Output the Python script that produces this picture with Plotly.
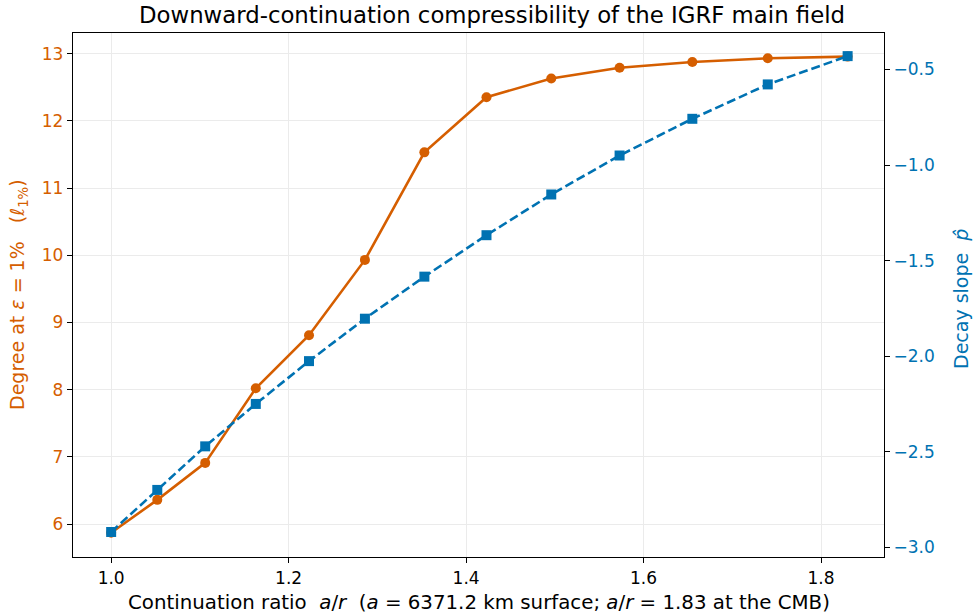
import plotly.graph_objects as go

# continuation ratio a/r
ratio = [1.0, 1.052, 1.106, 1.163, 1.223, 1.286, 1.353, 1.423, 1.496, 1.573, 1.655, 1.740, 1.830]
# degree at eps = 1%
degree = [5.87, 6.36, 6.91, 8.02, 8.81, 9.93, 11.53, 12.35, 12.63, 12.79, 12.875, 12.93, 12.955]
# decay slope p-hat
slope = [-2.92, -2.70, -2.472, -2.25, -2.026, -1.804, -1.584, -1.367, -1.154, -0.95, -0.758, -0.578, -0.43]

x_ticks = [1.0, 1.2, 1.4, 1.6, 1.8]
y_ticks = [6, 7, 8, 9, 10, 11, 12, 13]
y2_ticks = [-3.0, -2.5, -2.0, -1.5, -1.0, -0.5]
y2_labels = ["\u22123.0", "\u22122.5", "\u22122.0", "\u22121.5", "\u22121.0", "\u22120.5"]

ORANGE = "#D55E00"
BLUE = "#0072B2"
FONT = "DejaVu Sans"

W, H = 973, 616
L, R, T, B = 73, 89, 33, 59
PW, PH = W - L - R, H - T - B

fig = go.Figure()
fig.add_trace(go.Scatter(
    x=ratio, y=degree, mode="lines+markers",
    line=dict(color=ORANGE, width=2.6),
    marker=dict(symbol="circle", size=10, color=ORANGE),
    showlegend=False, yaxis="y",
))
fig.add_trace(go.Scatter(
    x=ratio, y=slope, mode="lines+markers",
    line=dict(color=BLUE, width=2.6, dash="9px,4px"),
    marker=dict(symbol="square", size=10, color=BLUE),
    showlegend=False, yaxis="y2",
))

NB = "\u00a0"
annotations = [
    dict(text="Downward-continuation compressibility of the IGRF main field",
         xref="paper", yref="paper", x=(492 - L) / PW, y=1 + (T - 15) / PH,
         xanchor="center", yanchor="middle", showarrow=False,
         font=dict(family=FONT, size=22.8, color="black")),
    dict(text=f"Continuation ratio{NB}{NB}<i>a</i>/<i>r</i>{NB}{NB}(<i>a</i>{NB}={NB}6371.2 km surface; <i>a</i>/<i>r</i>{NB}={NB}1.83 at the CMB)",
         xref="paper", yref="paper", x=(478.5 - L) / PW, y=-(602 - (T + PH)) / PH,
         xanchor="center", yanchor="middle", showarrow=False,
         font=dict(family=FONT, size=19.8, color="black")),
    dict(text=f"Degree at <i>ε</i>{NB}={NB}1%{NB}{NB}{NB}(<i>ℓ</i><sub>1%</sub>)",
         xref="paper", yref="paper", x=(18 - L) / PW, y=1 - (295 - T) / PH,
         xanchor="center", yanchor="middle", showarrow=False, textangle=-90,
         font=dict(family=FONT, size=19, color=ORANGE)),
    dict(text=f"Decay slope{NB}{NB}<i>p̂</i>",
         xref="paper", yref="paper", x=(961 - L) / PW, y=1 - (299 - T) / PH,
         xanchor="center", yanchor="middle", showarrow=False, textangle=-90,
         font=dict(family=FONT, size=19, color=BLUE)),
]

fig.update_layout(
    width=W, height=H,
    margin=dict(l=L, r=R, t=T, b=B, autoexpand=False),
    paper_bgcolor="white", plot_bgcolor="white",
    font=dict(family=FONT, size=17, color="black"),
    annotations=annotations,
    xaxis=dict(
        range=[0.957, 1.871], tickvals=x_ticks, ticktext=[f"{v:.1f}" for v in x_ticks],
        showgrid=True, gridcolor="#ebebeb", gridwidth=1,
        showline=True, linecolor="black", linewidth=1.3, mirror=True,
        ticks="outside", ticklen=5, tickcolor="black", tickwidth=1.2,
        tickfont=dict(size=17, color="black"), zeroline=False, automargin=False,
    ),
    yaxis=dict(
        range=[5.51, 13.306], tickvals=y_ticks,
        showgrid=True, gridcolor="#ebebeb", gridwidth=1,
        showline=True, linecolor="black", linewidth=1.3,
        ticks="outside", ticklen=5, tickcolor="black", tickwidth=1.2,
        tickfont=dict(size=17, color=ORANGE), zeroline=False, automargin=False,
    ),
    yaxis2=dict(
        range=[-3.051, -0.309], tickvals=y2_ticks, ticktext=y2_labels,
        overlaying="y", side="right", showgrid=False,
        showline=True, linecolor="black", linewidth=1.3,
        ticks="outside", ticklen=5, tickcolor="black", tickwidth=1.2,
        tickfont=dict(size=17, color=BLUE), zeroline=False, automargin=False,
    ),
)

fig.write_html("out.html", config={"displayModeBar": False},
               post_script="document.body.style.margin='0';document.body.style.overflow='hidden';")
